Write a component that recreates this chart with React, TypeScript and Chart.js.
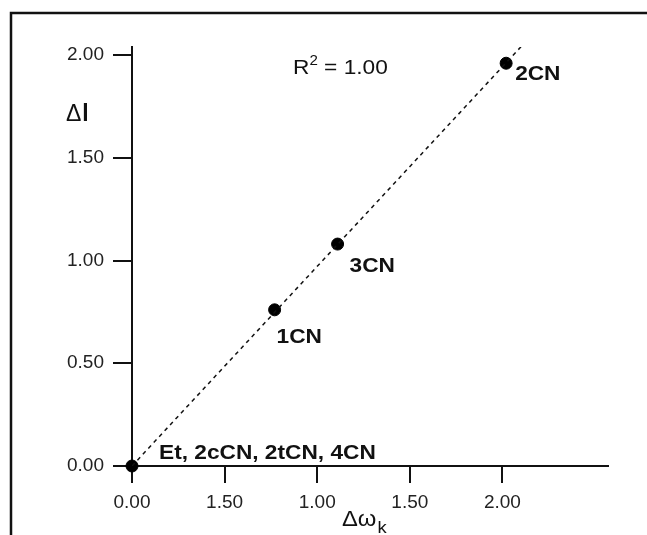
import React, { useEffect, useRef } from "react";
import { Chart, registerables } from "chart.js";

Chart.register(...registerables);

// ---- data ----
const POINT_NAMES = ["Et, 2cCN, 2tCN, 4CN", "1CN", "3CN", "2CN"];
const DELTA_OMEGA = [0, 0.77, 1.11, 2.02];
const DELTA_I = [0, 0.76, 1.08, 1.96];
const FIT_X = [0, 2.1];
const FIT_Y = [0, 2.04];
const X_TICK_VALUES = [0, 0.5, 1.0, 1.5, 2.0];
const X_TICK_LABELS = ["0.00", "1.50", "1.00", "1.50", "2.00"];
const Y_TICK_VALUES = [0, 0.5, 1.0, 1.5, 2.0];
const Y_TICK_LABELS = ["0.00", "0.50", "1.00", "1.50", "2.00"];
const R2_TEXT = "1.00";

// ---- style ----
const FONT = '"Liberation Sans", Arial, Helvetica, sans-serif';
const STRETCH = 1.08;
const LABEL_OFFSETS: [number, number][] = [
  [27, -7],
  [2, 33],
  [12, 28],
  [9, 17],
];

const framePlugin = {
  id: "frame",
  beforeDraw(chart: any) {
    const ctx = chart.ctx;
    ctx.save();
    ctx.strokeStyle = "#111";
    ctx.lineWidth = 2.5;
    ctx.beginPath();
    ctx.moveTo(11, 535);
    ctx.lineTo(11, 13);
    ctx.lineTo(647, 13);
    ctx.stroke();
    ctx.restore();
  },
};

function wideText(ctx: any, text: string, x: number, y: number) {
  ctx.save();
  ctx.translate(x, y);
  ctx.scale(STRETCH, 1);
  ctx.fillText(text, 0, 0);
  ctx.restore();
  return ctx.measureText(text).width * STRETCH;
}

const textPlugin = {
  id: "texts",
  afterDraw(chart: any) {
    const ctx = chart.ctx;
    const xs = chart.scales.x;
    const ys = chart.scales.y;
    const area = chart.chartArea;
    ctx.save();
    ctx.fillStyle = "#111";
    ctx.textBaseline = "alphabetic";
    ctx.textAlign = "left";
    // point labels
    ctx.font = `bold 21px ${FONT}`;
    POINT_NAMES.forEach((name, i) => {
      const px = xs.getPixelForValue(DELTA_OMEGA[i]);
      const py = ys.getPixelForValue(DELTA_I[i]);
      const [dx, dy] = LABEL_OFFSETS[i];
      wideText(ctx, name, px + dx, py + dy);
    });
    // R^2
    let x = area.left + 161;
    const by = area.top + 27;
    ctx.font = `21px ${FONT}`;
    x += wideText(ctx, "R", x, by);
    ctx.font = `14px ${FONT}`;
    x += wideText(ctx, "2", x, by - 9);
    ctx.font = `21px ${FONT}`;
    wideText(ctx, " = " + R2_TEXT, x, by);
    // y-axis title
    ctx.font = `23px ${FONT}`;
    ctx.fillText("Δ", 66, 121);
    const dw = ctx.measureText("Δ").width;
    ctx.font = `bold 23px ${FONT}`;
    ctx.fillText("l", 66 + dw + 1, 121);
    // x-axis title
    let tx = 342;
    ctx.font = `22px ${FONT}`;
    tx += wideText(ctx, "Δω", tx, 526);
    ctx.font = `17px ${FONT}`;
    wideText(ctx, "k", tx + 1, 533);
    ctx.restore();
  },
};

export default function App() {
  const ref = useRef<HTMLCanvasElement | null>(null);
  useEffect(() => {
    if (!ref.current) return;
    const tickFont = { family: FONT, size: 19 };
    const chart = new Chart(ref.current, {
      type: "scatter",
      data: {
        datasets: [
          {
            type: "line",
            data: FIT_X.map((v, i) => ({ x: v, y: FIT_Y[i] })),
            borderColor: "#111",
            borderWidth: 1.5,
            borderDash: [4, 4],
            pointRadius: 0,
            fill: false,
          } as any,
          {
            type: "scatter",
            data: DELTA_OMEGA.map((v, i) => ({ x: v, y: DELTA_I[i] })),
            backgroundColor: "#000",
            borderColor: "#000",
            pointRadius: 6,
            clip: false,
          } as any,
        ],
      },
      options: {
        responsive: false,
        animation: false,
        devicePixelRatio: 1,
        layout: { padding: { top: 47, right: 39, left: 0, bottom: 0 } },
        plugins: {
          legend: { display: false },
          tooltip: { enabled: false },
        },
        scales: {
          x: {
            type: "linear",
            min: 0,
            max: 2.57,
            afterBuildTicks: (s: any) => {
              s.ticks = X_TICK_VALUES.map((v) => ({ value: v }));
            },
            afterFit: (s: any) => {
              s.height = 69;
            },
            ticks: {
              callback: (_v: any, i: number) => X_TICK_LABELS[i],
              font: tickFont,
              color: "#222",
              padding: 8,
              maxRotation: 0,
              autoSkip: false,
            },
            grid: {
              display: true,
              drawOnChartArea: false,
              drawTicks: true,
              tickLength: 17,
              color: "#111",
              lineWidth: 2,
            },
            border: { display: true, color: "#111", width: 2 },
          },
          y: {
            type: "linear",
            min: 0,
            max: 2.039,
            afterBuildTicks: (s: any) => {
              s.ticks = Y_TICK_VALUES.map((v) => ({ value: v }));
            },
            afterFit: (s: any) => {
              s.width = 132;
            },
            ticks: {
              callback: (_v: any, i: number) => Y_TICK_LABELS[i],
              font: tickFont,
              color: "#222",
              padding: 9,
              autoSkip: false,
            },
            grid: {
              display: true,
              drawOnChartArea: false,
              drawTicks: true,
              tickLength: 19,
              color: "#111",
              lineWidth: 2,
            },
            border: { display: true, color: "#111", width: 2 },
          },
        },
      },
      plugins: [framePlugin, textPlugin],
    });
    return () => chart.destroy();
  }, []);
  return (
    <div style={{ position: "fixed", left: 0, top: 0, width: 647, height: 535, background: "#fff" }}>
      <canvas ref={ref} width={647} height={535} style={{ display: "block" }} />
    </div>
  );
}
